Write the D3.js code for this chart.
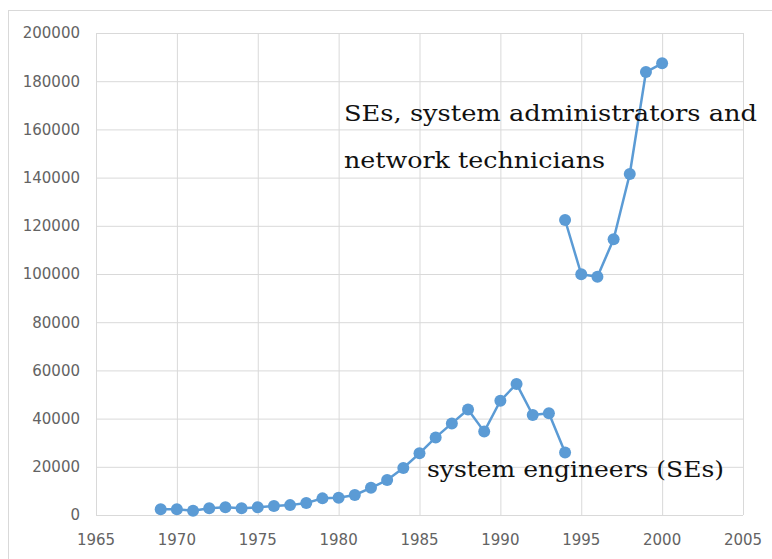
<!DOCTYPE html>
<html>
<head>
<meta charset="utf-8">
<script src="https://cdn.jsdelivr.net/npm/d3@7"></script>
<style>
  body { margin: 0; background: #fff; }
  .grid line { stroke: #d9d9d9; stroke-width: 1; }
  .grid path { display: none; }
  .tick-label { font-family: "DejaVu Sans", sans-serif; font-size: 15px; fill: #636363; }
  .note { font-family: "DejaVu Serif", serif; font-size: 23px; fill: #111; }
</style>
</head>
<body>
<div id="chart"></div>
<script>
// years + values
var seYears = [1969, 1970, 1971, 1972, 1973, 1974, 1975, 1976, 1977, 1978, 1979, 1980, 1981,
               1982, 1983, 1984, 1985, 1986, 1987, 1988, 1989, 1990, 1991, 1992, 1993, 1994];
var seValues = [2400, 2400, 1800, 2800, 3200, 2800, 3200, 3700, 4100, 5000, 6900, 7200, 8300,
                11300, 14500, 19500, 25600, 32200, 38000, 43800, 34600, 47400, 54400, 41500, 42200, 25900];

var netYears = [1994, 1995, 1996, 1997, 1998, 1999, 2000];
var netValues = [122400, 99900, 98900, 114400, 141500, 183800, 187400];

var xTicks = [1965, 1970, 1975, 1980, 1985, 1990, 1995, 2000, 2005];
var yTicks = [0, 20000, 40000, 60000, 80000, 100000, 120000, 140000, 160000, 180000, 200000];

var W = 772, H = 559;
// plot box (window.top is taken, so keep these in an object)
var plot = {left: 96, right: 743, top: 33, bottom: 515};
var blue = "#5b9bd5";

var svg = d3.select("#chart").append("svg")
    .attr("width", W)
    .attr("height", H);

// outer chart frame (runs off the picture at right and bottom)
svg.append("rect")
    .attr("x", 8.5).attr("y", 10.5)
    .attr("width", W).attr("height", H)
    .attr("fill", "none")
    .attr("stroke", "#d9d9d9");

var x = d3.scaleLinear().domain([1965, 2005]).range([plot.left, plot.right]);
var y = d3.scaleLinear().domain([0, 200000]).range([plot.bottom, plot.top]);

// gridlines
svg.append("g")
    .attr("class", "grid")
    .attr("transform", "translate(0," + plot.top + ")")
    .call(d3.axisBottom(x).tickValues(xTicks).tickSize(plot.bottom - plot.top).tickFormat(""));

svg.append("g")
    .attr("class", "grid")
    .attr("transform", "translate(" + plot.left + ",0)")
    .call(d3.axisRight(y).tickValues(yTicks).tickSize(plot.right - plot.left).tickFormat(""));

// tick labels
svg.selectAll(".ylab")
    .data(yTicks)
    .enter().append("text")
    .attr("class", "tick-label")
    .attr("x", 80)
    .attr("y", function(d) { return y(d); })
    .attr("dy", "0.36em")
    .attr("text-anchor", "end")
    .text(function(d) { return d; });

svg.selectAll(".xlab")
    .data(xTicks)
    .enter().append("text")
    .attr("class", "tick-label")
    .attr("x", function(d) { return x(d); })
    .attr("y", 545)
    .attr("text-anchor", "middle")
    .text(function(d) { return d; });

// series
var line = d3.line()
    .x(function(d) { return x(d.year); })
    .y(function(d) { return y(d.value); });

function drawSeries(years, values) {
  var pts = years.map(function(yr, i) { return {year: yr, value: values[i]}; });
  svg.append("path")
      .datum(pts)
      .attr("fill", "none")
      .attr("stroke", blue)
      .attr("stroke-width", 2.5)
      .attr("stroke-linejoin", "round")
      .attr("d", line);
  svg.append("g").selectAll("circle")
      .data(pts)
      .enter().append("circle")
      .attr("cx", function(d) { return x(d.year); })
      .attr("cy", function(d) { return y(d.value); })
      .attr("r", 6)
      .attr("fill", blue);
}
drawSeries(seYears, seValues);
drawSeries(netYears, netValues);

// annotations
svg.append("text").attr("class", "note")
    .attr("x", 344).attr("y", 121)
    .attr("textLength", 413).attr("lengthAdjust", "spacingAndGlyphs")
    .text("SEs, system administrators and");
svg.append("text").attr("class", "note")
    .attr("x", 344).attr("y", 168)
    .attr("textLength", 261).attr("lengthAdjust", "spacingAndGlyphs")
    .text("network technicians");
svg.append("text").attr("class", "note")
    .attr("x", 427).attr("y", 477)
    .attr("textLength", 297).attr("lengthAdjust", "spacingAndGlyphs")
    .text("system engineers (SEs)");
</script>
</body>
</html>
